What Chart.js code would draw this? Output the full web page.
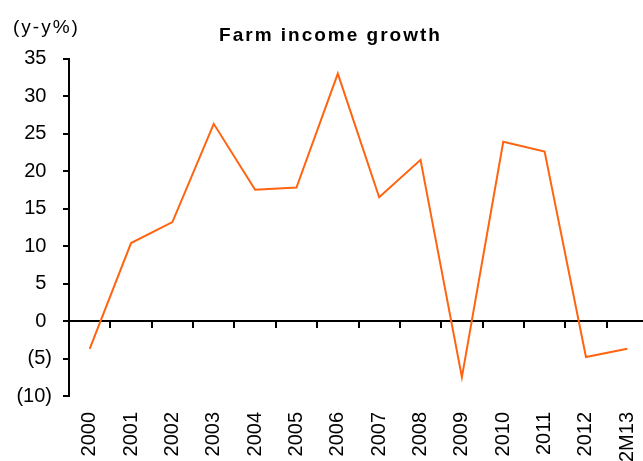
<!DOCTYPE html>
<html>
<head>
<meta charset="utf-8">
<script src="https://cdn.jsdelivr.net/npm/chart.js@4/dist/chart.umd.min.js"></script>
<style>
  html, body { margin: 0; padding: 0; background: #fff; overflow: hidden; width: 643px; height: 461px; }
  #wrap { width: 648px; height: 461px; }
</style>
</head>
<body>
<div id="wrap"><canvas id="c" width="648" height="461"></canvas></div>
<script>
const categories = ['2000','2001','2002','2003','2004','2005','2006','2007','2008','2009','2010','2011','2012','2M13'];
const farmIncomeGrowth = [-3.7, 10.4, 13.2, 26.3, 17.5, 17.8, 33.0, 16.5, 21.5, -7.5, 23.9, 22.6, -4.8, -3.7];
const yTicks = { min: -10, max: 35, step: 5 };
const unitLabel = '(y-y%)';
const chartTitle = 'Farm income growth';

const FONT = '"Liberation Sans", Arial, sans-serif';

const spacingPlugin = {
  id: 'titleSpacing',
  beforeDraw(chart) { chart.ctx.letterSpacing = '2px'; },
  beforeDatasetsDraw(chart) { chart.ctx.letterSpacing = '0px'; }
};

new Chart(document.getElementById('c'), {
  type: 'line',
  data: {
    labels: categories,
    datasets: [{
      data: farmIncomeGrowth,
      borderColor: '#FF6410',
      borderWidth: 2,
      pointRadius: 0,
      tension: 0,
      fill: false,
      xAxisID: 'x',
      yAxisID: 'y'
    }]
  },
  plugins: [spacingPlugin],
  options: {
    responsive: false,
    animation: false,
    layout: { padding: { left: 13, right: 0, top: 0, bottom: 0 } },
    plugins: {
      legend: { display: false },
      tooltip: { enabled: false },
      title: {
        display: true,
        text: unitLabel,
        align: 'start',
        color: '#000',
        font: { family: FONT, size: 19, weight: 'normal' },
        padding: { top: 16, bottom: -14 }
      },
      subtitle: {
        display: true,
        text: chartTitle,
        align: 'center',
        color: '#000',
        font: { family: FONT, size: 19, weight: 'bold' },
        padding: { top: 0, bottom: 11 }
      }
    },
    scales: {
      x: {
        type: 'category',
        position: 'bottom',
        offset: true,
        afterFit(scale) { scale.height = 65; scale.paddingLeft = 0; scale.paddingRight = 0; },
        grid: { display: false, drawTicks: false, tickLength: 0 },
        border: { display: false },
        ticks: {
          z: 1,
          color: '#000',
          font: { family: FONT, size: 20 },
          minRotation: 90,
          maxRotation: 90,
          autoSkip: false,
          padding: 16
        }
      },
      x0: {
        type: 'category',
        axis: 'x',
        position: { y: 0 },
        offset: true,
        afterFit(scale) { scale.paddingLeft = 0; scale.paddingRight = 0; },
        grid: {
          display: true,
          drawOnChartArea: false,
          drawTicks: true,
          tickLength: 6,
          color: '#000',
          lineWidth: 2,
          offset: true
        },
        border: { display: true, color: '#000', width: 2 },
        ticks: { display: false }
      },
      y: {
        type: 'linear',
        position: 'left',
        min: yTicks.min,
        max: yTicks.max,
        afterFit(scale) { scale.width = 56; },
        grid: {
          display: true,
          drawOnChartArea: false,
          drawTicks: true,
          tickLength: 6,
          color: '#000',
          lineWidth: 2
        },
        border: { display: true, color: '#000', width: 2 },
        ticks: {
          z: 1,
          stepSize: yTicks.step,
          color: '#000',
          font: { family: FONT, size: 20 },
          padding: 11,
          callback: (v) => v < 0 ? '(' + (-v) + ')' : v + ' '
        }
      }
    }
  }
});
</script>
</body>
</html>
